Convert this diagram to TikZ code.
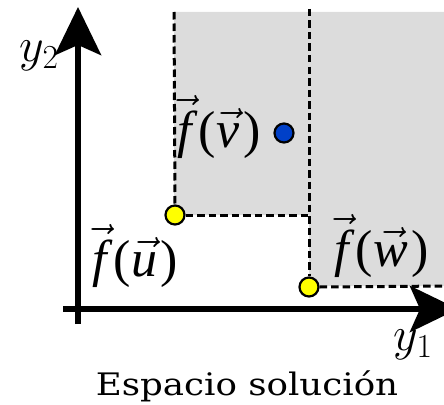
\RequirePackage{fix-cm}
\documentclass[tikz,border=0pt]{standalone}
\usepackage{fontspec}
\usetikzlibrary{arrows.meta}
\newfontfamily\lserif{Liberation Serif}
\newfontfamily\capfont[FakeStretch=1.15]{DejaVu Serif}
\newcommand\vecfn[1]{$\vec{\mbox{\lserif\itshape #1}}$}
\newcommand\flab[1]{\vecfn{f}\kern7pt{\lserif(}\kern1pt\vecfn{#1}\kern3pt{\lserif)}}
\definecolor{regiongray}{HTML}{DCDCDC}
\definecolor{ptyellow}{HTML}{FFFF00}
\definecolor{ptblue}{HTML}{0040C8}
\tikzset{
  axisline/.style={line width=6pt, -{Stealth[length=48pt,width=46pt,inset=10pt]}},
  bound/.style={line width=3pt, dash pattern=on 7.5pt off 4pt},
  pt/.style={circle, draw=black, line width=2.2pt, minimum size=19pt, inner sep=0pt},
  flabel/.style={inner sep=0pt, anchor=base west, font=\fontsize{52}{56}\selectfont},
  axlabel/.style={inner sep=0pt, font=\fontsize{48}{52}\selectfont},
}
\begin{document}
\begin{tikzpicture}[x=1pt,y=-1pt]
\useasboundingbox (0,0) rectangle (444,404);
% region
\fill[regiongray] (174,12) -- (450,12) -- (450,286) -- (309,286) -- (309,215) -- (174,215) -- cycle;
% axes
\coordinate (ybot) at (78,324);
\coordinate (ytop) at (78,7);
\coordinate (xleft) at (63,309);
\coordinate (xright) at (458,309);
\draw[axisline] (ybot) -- (ytop);
\draw[axisline] (xleft) -- (xright);
% points
\node[pt, fill=ptyellow] (u) at (175,215) {};
\node[pt, fill=ptyellow] (w) at (309,287) {};
\node[pt, fill=ptblue] (v) at (284,133) {};
\coordinate (utop) at (174,12);
\coordinate (wtop) at (309,9);
\coordinate (wright) at (450,286);
\draw[bound] (utop) -- (u.north);
\draw[bound] (u.east) -- (309,215);
\draw[bound] (wtop) -- (w.north);
\draw[bound] (w.east) -- (wright);
% labels
\node[flabel] (lv) at (177,147) {\flab{v}};
\node[flabel] (lu) at (92,276) {\flab{u}};
\node[flabel] (lw) at (334,266) {\flab{w}};
\node[axlabel] (y2) at (39,56) {$y_2$};
\node[axlabel] (y1) at (413,345) {$y_1$};
\node[inner sep=0pt, anchor=base, font=\capfont\fontsize{31}{34}\selectfont] (cap) at (247,395) {Espacio solución};
\end{tikzpicture}
\end{document}
